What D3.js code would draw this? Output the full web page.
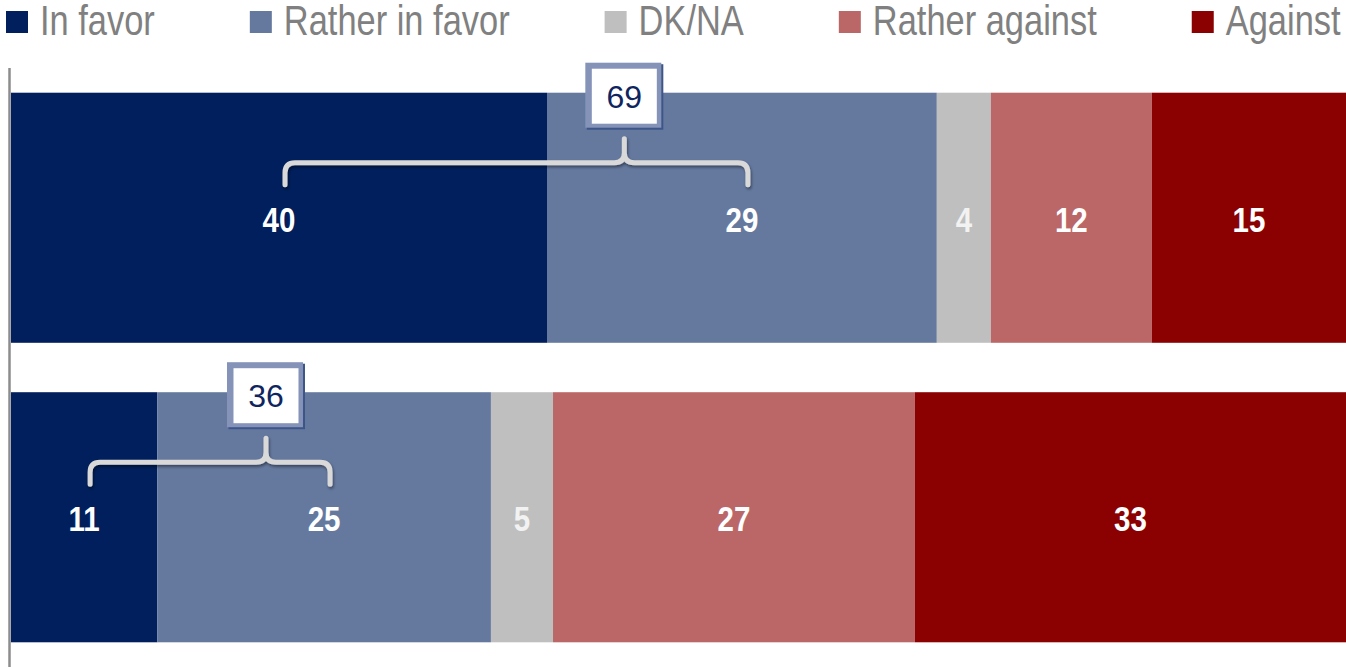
<!DOCTYPE html>
<html>
<head>
<meta charset="utf-8">
<script src="https://cdn.jsdelivr.net/npm/d3@7"></script>
<style>
  html, body { margin: 0; padding: 0; background: #ffffff; }
  svg { display: block; }
</style>
</head>
<body>
<svg id="chart" width="1346" height="667"></svg>
<script>
// ---- data ----
const categories = ["In favor", "Rather in favor", "DK/NA", "Rather against", "Against"];
const colors = ["#001f5c", "#65799f", "#bfbfbf", "#bb6767", "#8b0000"];
const rows = ["Row 1", "Row 2"];
// measured segment shares (percent of bar length)
const row1Shares = [40.15, 29.2, 4.05, 12.05, 14.55];
const row2Shares = [10.95, 25.0, 4.65, 27.1, 32.3];
// displayed labels
const row1Labels = ["40", "29", "4", "12", "15"];
const row2Labels = ["11", "25", "5", "27", "33"];
// combined "in favor" totals
const totals = ["69", "36"];

const shares = [row1Shares, row2Shares];
const labels = [row1Labels, row2Labels];

// ---- layout ----
const W = 1346, H = 667;
const svg = d3.select("#chart");
const sans = "'Liberation Sans', Arial, sans-serif";
const NARROW = 0.82; // Arial Narrow ~ Arial condensed horizontally

const x = d3.scaleLinear().domain([0, 100]).range([11, 1346]);
const y = d3.scaleBand().domain(rows).range([68, 667]).paddingInner(0.165).paddingOuter(0.0825);

const defs = svg.append("defs");
const f = defs.append("filter").attr("id", "shadow").attr("x", "-10%").attr("y", "-50%").attr("width", "120%").attr("height", "200%");
f.append("feDropShadow").attr("dx", 1).attr("dy", 2).attr("stdDeviation", 1.5).attr("flood-color", "#000").attr("flood-opacity", 0.45);

// narrow text helper
function narrowText(parent, cx, cy, str, opts) {
  const g = parent.append("g").attr("transform", `translate(${cx},${cy}) scale(${NARROW},1)`);
  const t = g.append("text")
    .attr("x", 0).attr("y", 0)
    .attr("font-family", sans)
    .attr("font-size", opts.size)
    .attr("font-weight", opts.weight || "normal")
    .attr("fill", opts.fill)
    .attr("text-anchor", opts.anchor || "start")
    .attr("dy", opts.dy || 0)
    .text(str);
  return t;
}

// bars
rows.forEach((r, ri) => {
  let cum = 0;
  const segs = shares[ri].map((v, i) => {
    const s = { row: r, i, start: cum, end: cum + v, label: labels[ri][i] };
    cum += v;
    return s;
  });
  const g = svg.append("g");
  g.selectAll("rect").data(segs).join("rect")
    .attr("x", d => x(d.start))
    .attr("y", y(r))
    .attr("width", d => x(d.end) - x(d.start))
    .attr("height", y.bandwidth())
    .attr("fill", d => colors[d.i]);
  segs.forEach(d => {
    narrowText(g, (x(d.start) + x(d.end)) / 2, y(r) + y.bandwidth() / 2 + 1, d.label,
      { size: 36, weight: "bold", fill: d.i === 2 ? "#f2f2f2" : "#ffffff", anchor: "middle", dy: "0.36em" });
  });

  // bracket over first two segments
  const top = y(r);
  const x1 = (x(segs[0].start) + x(segs[0].end)) / 2 + 6;
  const x2 = (x(segs[1].start) + x(segs[1].end)) / 2 + 6;
  const xt = x1 + (x2 - x1) * 0.733;
  const yH = top + 70, yEnd = top + 92, yTip = top + 46, rr = 10;
  const p = d3.path();
  p.moveTo(x1, yEnd);
  p.lineTo(x1, yH + rr);
  p.quadraticCurveTo(x1, yH, x1 + rr, yH);
  p.lineTo(xt - rr, yH);
  p.quadraticCurveTo(xt, yH, xt, yH - rr);
  p.lineTo(xt, yTip);
  p.moveTo(xt, yH - rr);
  p.quadraticCurveTo(xt, yH, xt + rr, yH);
  p.lineTo(x2 - rr, yH);
  p.quadraticCurveTo(x2, yH, x2, yH + rr);
  p.lineTo(x2, yEnd);
  svg.append("path")
    .attr("d", p.toString())
    .attr("fill", "none")
    .attr("stroke", "#d9d9d9")
    .attr("stroke-width", 5)
    .attr("stroke-linecap", "round")
    .attr("stroke-linejoin", "round")
    .attr("filter", "url(#shadow)");

  // total callout box
  const bw = 78, bh = 67, bx = xt - bw / 2, by = top - 30;
  svg.append("rect").attr("x", bx + 1.5).attr("y", by + 1.5).attr("width", bw - 1.5).attr("height", bh - 1.5).attr("fill", "#3d5587");
  svg.append("rect").attr("x", bx).attr("y", by).attr("width", bw - 2).attr("height", bh - 2).attr("fill", "#8593b9");
  svg.append("rect").attr("x", bx + 6.5).attr("y", by + 6).attr("width", bw - 13).attr("height", bh - 12).attr("fill", "#ffffff");
  svg.append("text")
    .attr("x", bx + bw / 2)
    .attr("y", by + bh / 2)
    .attr("dy", "0.36em")
    .attr("text-anchor", "middle")
    .attr("font-family", sans)
    .attr("font-size", 32)
    .attr("fill", "#0f2560")
    .text(totals[ri]);
});

// left axis line
svg.append("line")
  .attr("x1", 9.5).attr("x2", 9.5)
  .attr("y1", 68).attr("y2", H)
  .attr("stroke", "#8c8c8c").attr("stroke-width", 2.5);

// legend
const leg = svg.append("g");
let lx = 6;
categories.forEach((c, i) => {
  leg.append("rect").attr("x", lx).attr("y", 11).attr("width", 22).attr("height", 22).attr("fill", colors[i]);
  const t = narrowText(leg, lx + 34, 35, c, { size: 42, fill: "#808080" });
  const w = t.node().getComputedTextLength() * NARROW;
  lx = lx + 34 + w + 95;
});
</script>
</body>
</html>
